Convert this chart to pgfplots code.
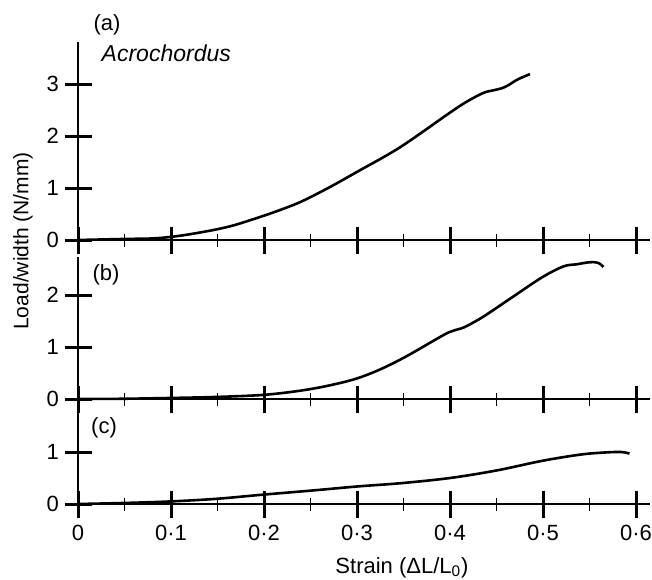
\documentclass[border=0pt]{standalone}
\usepackage{fontspec}
\setmainfont{Liberation Sans}
\usepackage{pgfplots}
\pgfplotsset{compat=1.18}
\begin{document}
\fontsize{11pt}{13pt}\selectfont
\begin{tikzpicture}
\useasboundingbox (0,0) rectangle (326pt,289.5pt);
\pgfplotsset{
  panel/.style={
    x=465pt, y=26pt,
    xmin=0, xmax=0.615, ymin=0,
    anchor=origin,
    axis x line=bottom, axis y line=left,
    axis line style={-, line width=1.4pt},
    tick align=center,
    major tick length=13.5pt, minor tick length=6.5pt,
    every tick/.style={black},
    major tick style={line width=1.5pt},
    minor tick style={line width=0.8pt},
    xtick={0,0.1,0.2,0.3,0.4,0.5,0.6},
    minor xtick={0.05,0.15,0.25,0.35,0.45,0.55},
    xticklabels={},
    /pgf/number format/assume math mode=true,
    ticklabel style={font=\fontsize{11pt}{13pt}\selectfont},
    yticklabel style={xshift=1pt},
    clip=false,
  },
  curve/.style={black, line width=1.3pt, smooth, tension=0.55},
}

% (a)
\begin{axis}[panel, at={(39pt,169.5pt)}, ymax=3.81, ytick={0,1,2,3}]
  \addplot[curve] coordinates {
    (0,0) (0.05,0.02) (0.08,0.03) (0.1,0.06) (0.12,0.11) (0.145,0.19)
    (0.165,0.27) (0.185,0.38) (0.21,0.53) (0.239,0.73) (0.27,1.01)
    (0.3,1.31) (0.346,1.78) (0.4,2.45) (0.418,2.66)
    (0.436,2.83) (0.447,2.88) (0.456,2.92) (0.463,2.98) (0.473,3.09)
    (0.486,3.19)
  };
\end{axis}

% (b)
\begin{axis}[panel, at={(39pt,90pt)}, ymax=2.73, ytick={0,1,2}]
  \addplot[curve] coordinates {
    (0,0) (0.05,0.005) (0.1,0.02) (0.15,0.04) (0.2,0.08) (0.239,0.16)
    (0.27,0.26) (0.299,0.39) (0.325,0.57) (0.353,0.82) (0.392,1.22)
    (0.403,1.31) (0.414,1.37) (0.425,1.47) (0.439,1.62) (0.468,1.97)
    (0.499,2.34) (0.522,2.55) (0.536,2.59) (0.55,2.63) (0.559,2.62)
    (0.565,2.54)
  };
\end{axis}

% (c)
\begin{axis}[panel, at={(39pt,37.5pt)}, ymax=1.75, ytick={0,1},
    xticklabels={0,0·1,0·2,0·3,0·4,0·5,0·6}]
  \addplot[curve] coordinates {
    (0,0) (0.05,0.02) (0.1,0.05) (0.149,0.1) (0.199,0.18) (0.252,0.26)
    (0.302,0.34) (0.347,0.40) (0.4,0.50) (0.45,0.645) (0.499,0.83)
    (0.54,0.95) (0.566,0.99) (0.584,1.0) (0.593,0.97)
  };
\end{axis}

\node at (53.5pt,277pt) {(a)};
\node[anchor=west, font=\fontsize{11.5pt}{13pt}\selectfont\itshape] at (47pt,263pt) {Acrochordus};
\node at (53pt,152pt) {(b)};
\node at (52pt,75.5pt) {(c)};
\node[rotate=90, font=\fontsize{10.5pt}{12pt}\selectfont] at (11.5pt,169pt) {Load/width (N/mm)};
\node at (201pt,5.5pt) {Strain (ΔL/L\textsubscript{0})};
\end{tikzpicture}
\end{document}
